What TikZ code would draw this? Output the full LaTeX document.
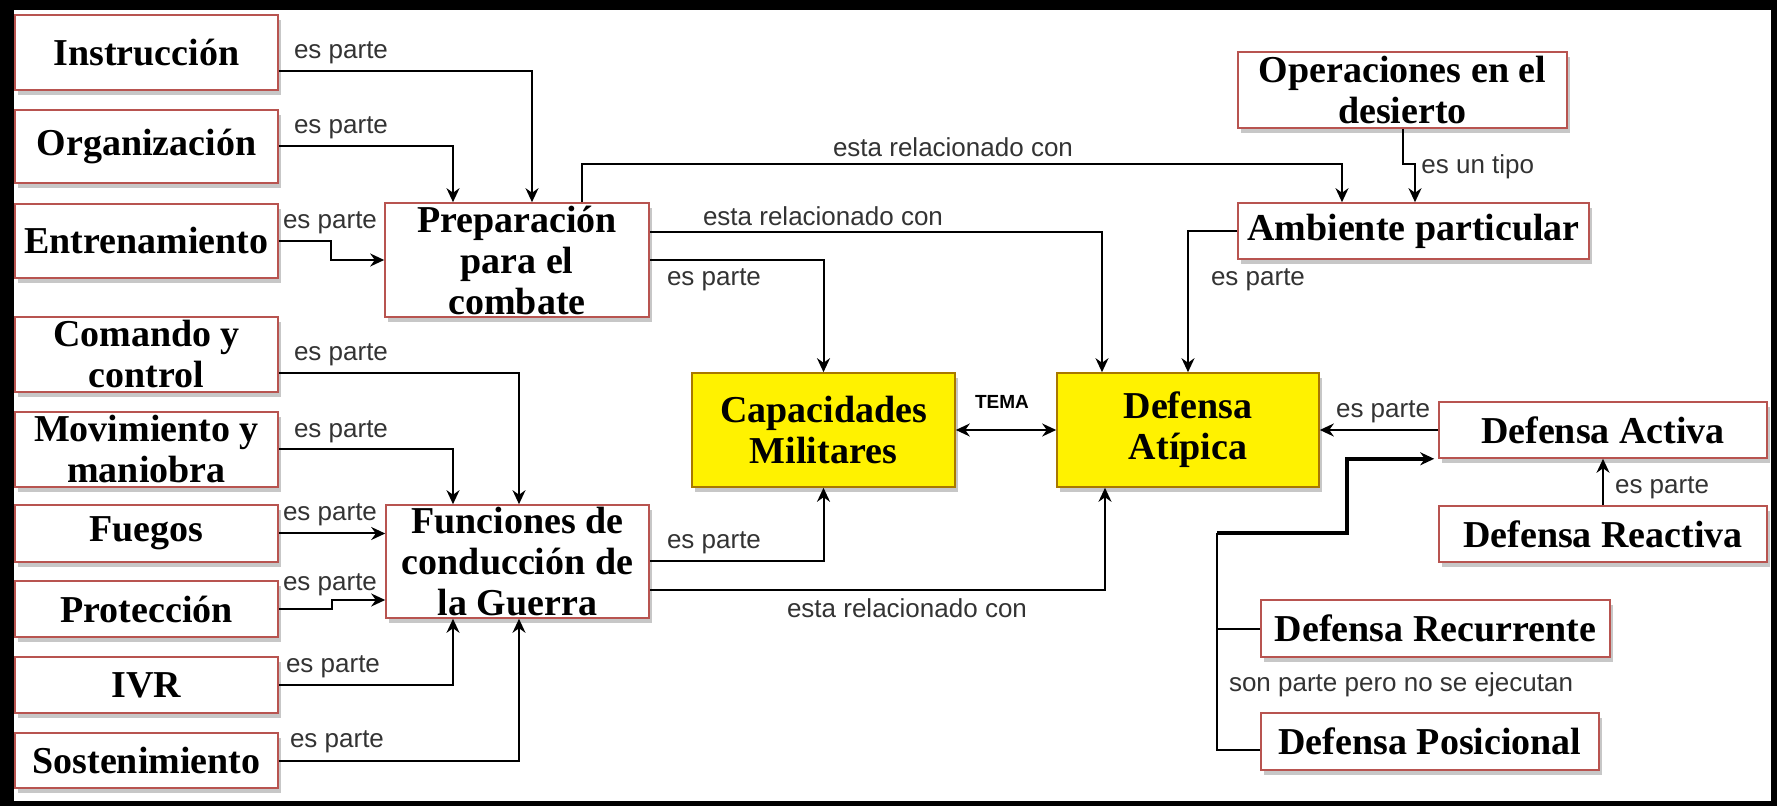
\documentclass[tikz,border=0pt]{standalone}
\usepackage{fontspec}
\setmainfont{Liberation Serif}
\setsansfont{Liberation Sans}
\usepackage{tikz}
\usetikzlibrary{arrows.meta,shadows}
\definecolor{boxred}{HTML}{B85450}
\definecolor{boxorange}{HTML}{A87800}
\definecolor{lblgray}{HTML}{333333}

\begin{document}
\begin{tikzpicture}[x=0.5pt, y=-0.5pt,
	>={Stealth[length=7pt,width=6.5pt]},
	box/.style={draw=boxred, fill=white, line width=0.8pt, minimum width=131.5pt, minimum height=37.5pt,
		inner sep=0pt, align=center, font=\fontsize{19}{20.5}\selectfont\bfseries,
		drop shadow={shadow xshift=1.5pt, shadow yshift=-2.5pt, fill=black!22, opacity=1}},
	tema/.style={box, draw=boxorange, fill=yellow, minimum height=57pt},
	lbl/.style={font=\fontsize{13}{14}\selectfont\sffamily, text=lblgray, inner sep=0pt},
	conn/.style={->, line width=1pt}]
			\useasboundingbox (0,0) rectangle (1777,806);
			\fill[black] (0,0) rectangle (1777,806);
			\fill[white] (14,10) rectangle (1771,801);
			% left column
			\node[box] (instr) at (146.5,52.5) {Instrucción};
			\node[box, minimum height=36.5pt] (organ) at (146.5,146.5) {Organización};
			\node[box, minimum height=37pt] (entren) at (146.5,241) {Entrenamiento};
			\node[box] (comando) at (146.5,354.5) {Comando y\\control};
			\node[box] (movim) at (146.5,449.5) {Movimiento y\\maniobra};
			\node[box, minimum height=28.5pt] (fuegos) at (146.5,533.5) {Fuegos};
			\node[box, minimum height=28pt] (protec) at (146.5,609) {Protección};
			\node[box, minimum height=28pt] (ivr) at (146.5,685) {IVR};
			\node[box, minimum height=27.5pt] (sosten) at (146.5,760.5) {Sostenimiento};
			% middle
			\node[box, minimum width=132pt, minimum height=57pt] (prep) at (517,260) {Preparación\\para el\\combate};
			\node[box, minimum height=56.5pt] (funcion) at (517.5,561.5) {Funciones de\\conducción de\\la Guerra};
			\node[tema] (capac) at (823.5,430) {Capacidades\\Militares};
			\node[tema, minimum width=131pt] (atipica) at (1188,430) {Defensa\\Atípica};
			% right side
			\node[box, minimum width=164.5pt, minimum height=38pt] (oper) at (1402.5,90) {Operaciones en el\\desierto};
			\node[box, minimum width=175.5pt, minimum height=28pt] (ambiente) at (1413.5,231) {Ambiente particular};
			\node[box, minimum width=164pt, minimum height=28pt] (activa) at (1603,430) {Defensa Activa};
			\node[box, minimum width=164pt, minimum height=28pt] (reactiva) at (1603,534) {Defensa Reactiva};
			\node[box, minimum width=174.5pt, minimum height=28.5pt] (recurr) at (1435.5,628.5) {Defensa Recurrente};
			\node[box, minimum width=169pt, minimum height=28.5pt] (posic) at (1430,741.5) {Defensa Posicional};
			% connectors into Preparacion
			\draw[conn] ([yshift=-9.25pt]instr.east) -| ([xshift=7.5pt]prep.north);
			\draw[conn] (organ.east) -| ([xshift=-32pt]prep.north);
			\draw[conn] (entren.east) -- ++(26pt,0) |- (prep.west);
			\node[lbl] (linstr) at (341,53) {es parte};
			\node[lbl] (lorgan) at (341,128) {es parte};
			\node[lbl] (lentren) at (330,223) {es parte};
			% connectors into Funciones
			\draw[conn] ([yshift=-9.25pt]comando.east) -| ([xshift=0.75pt]funcion.north);
			\draw[conn] (movim.east) -| ([xshift=-32.25pt]funcion.north);
			\draw[conn] (fuegos.east) -- (funcion.west |- fuegos.east);
			\draw[conn] (protec.east) -- ++(26.5pt,0) |- ([yshift=-19.25pt]funcion.west);
			\draw[conn] (ivr.east) -| ([xshift=-32.25pt]funcion.south);
			\draw[conn] (sosten.east) -| ([xshift=0.75pt]funcion.south);
			\node[lbl] (lcomando) at (341,355) {es parte};
			\node[lbl] (lmovim) at (341,432) {es parte};
			\node[lbl] (lfuegos) at (330,515) {es parte};
			\node[lbl] (lprotec) at (330,585) {es parte};
			\node[lbl] (livr) at (333,667) {es parte};
			\node[lbl] (lsosten) at (337,742) {es parte};
			% middle connectors
			\draw[conn] (prep.east) -| (capac.north);
			\draw[conn] ([yshift=14pt]prep.east) -| ([xshift=-43pt]atipica.north);
			\draw[conn] ([xshift=32.5pt]prep.north) -- ++(0,19pt) -| ([xshift=-35.75pt]ambiente.north);
			\draw[conn] (funcion.east) -| (capac.south);
			\draw[conn] ([yshift=-14.25pt]funcion.east) -| ([xshift=-41.5pt]atipica.south);
			\draw[<->, line width=1pt] (capac.east) -- (atipica.west);
			\node[lbl] (lprepcap) at (714,280) {es parte};
			\node[lbl] (lprepdef) at (823,216) {esta relacionado con};
			\node[lbl] (lprepamb) at (953,147) {esta relacionado con};
			\node[lbl] (lfuncap) at (714,543) {es parte};
			\node[lbl] (lfundef) at (907,608) {esta relacionado con};
			\node[lbl, font=\fontsize{9.5}{11}\selectfont\sffamily\bfseries, text=black] (ltema) at (1002,402) {TEMA};
			% right connectors
			\draw[conn] (oper.south) -- ++(0,-17.5pt) -| ([xshift=0.75pt]ambiente.north);
			\draw[conn] (ambiente.west) -| (atipica.north);
			\draw[conn] (activa.west) -- (atipica.east);
			\draw[conn] (reactiva.north) -- (activa.south);
			\node[lbl, anchor=west] (lopertipo) at (1421,167) {es un tipo};
			\node[lbl] (lambdef) at (1258,280) {es parte};
			\node[lbl] (lactdef) at (1383,412) {es parte};
			\node[lbl] (lreact) at (1662,488) {es parte};
			% recurrente y posicional
			\coordinate (jn) at (1217,533);
			\draw[line width=1pt] ([yshift=-4.25pt]posic.west) -| (jn);
			\draw[line width=1pt] (recurr.west) -- (recurr.west -| jn);
			\draw[->, line width=2pt] (jn) -- ++(65pt,0) |- ([xshift=-2pt]activa.south west);
			\node[lbl] (lnoejec) at (1401,685) {son parte pero no se ejecutan};
		\end{tikzpicture}
\end{document}
